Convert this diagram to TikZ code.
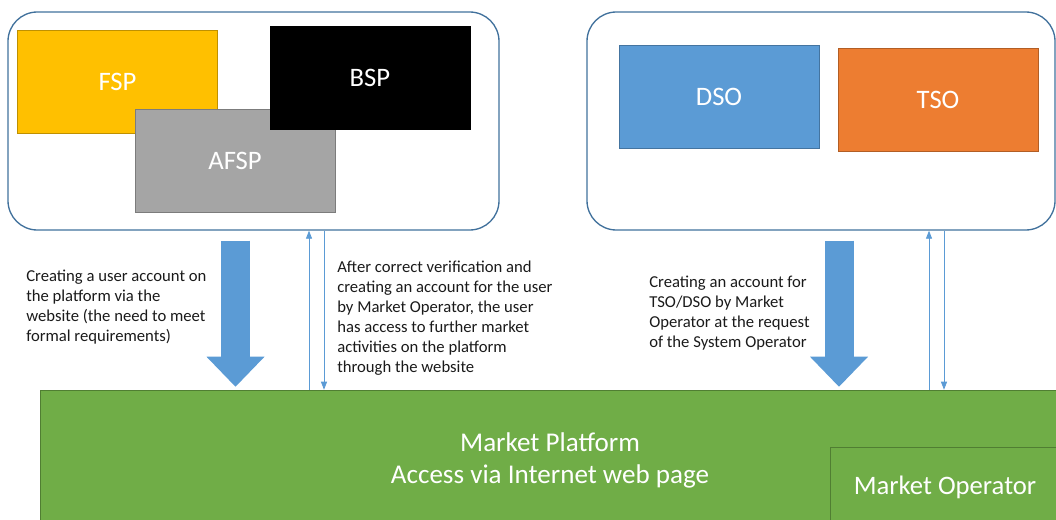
\documentclass[tikz,border=0pt]{standalone}
\usepackage{fontspec}
\setmainfont{Carlito}
\usetikzlibrary{arrows.meta}
\definecolor{fspyellow}{HTML}{FFC000}
\definecolor{afspgray}{HTML}{A5A5A5}
\definecolor{dsoblue}{HTML}{5B9BD5}
\definecolor{tsoorange}{HTML}{ED7D31}
\definecolor{platgreen}{HTML}{70AD47}
\definecolor{greenline}{HTML}{507E32}
\definecolor{grpline}{HTML}{41719C}
\definecolor{notetext}{HTML}{1A1A1A}
\tikzset{
  actor/.style={draw=#1!75!black, fill=#1, text=white, minimum width=150pt, minimum height=77pt, font=\fontsize{20}{24}\selectfont},
  grpbox/.style={draw=grpline, line width=1pt, rounded corners=22pt},
  note/.style={anchor=north west, align=left, text=notetext, inner sep=0pt, font=\fontsize{12.5}{15}\selectfont},
  bigarrow/.style={dsoblue, line width=21.75pt, shorten <=7.5pt, shorten >=2.25pt, -{Triangle[width=43.5pt,length=22.5pt,line width=0pt]}},
  thinarrow/.style={dsoblue, line width=0.6pt, -{Triangle[width=4.5pt,length=6pt]}},
}
\begin{document}
\begin{tikzpicture}[x=0.75pt,y=-0.75pt]
    \useasboundingbox (0,0) rectangle (1056,520);
    %groups
    \node[grpbox, minimum width=368.25pt, minimum height=163.5pt] (left) at (253.5,121) {};
    \node[grpbox, minimum width=351pt, minimum height=163.5pt] (right) at (821,121) {};
    %market participants
    \node[actor=fspyellow] (fsp) at (117.5,82) {FSP};
    \node[actor=afspgray] (afsp) at (235,160.5) {AFSP};
    \node[actor=black] (bsp) at (370,77.5) {BSP};
    %system operators
    \node[actor=dsoblue] (dso) at (719,97) {DSO};
    \node[actor=tsoorange] (tso) at (938,99.5) {TSO};
    %platform
    \node[draw=greenline, fill=platgreen, text=white, align=center, minimum width=765pt, minimum height=105pt, font=\fontsize{20.3}{24}\selectfont] (plat) at (550,460) {Market Platform\\Access via Internet web page};
    \node[draw=greenline, fill=platgreen, text=white, minimum width=172.5pt, minimum height=60pt, font=\fontsize{20}{24}\selectfont] (mo) at (945,487) {Market Operator};
    %arrows
    \draw[bigarrow] (235.5,0 |- left.south) -- (235.5,0 |- plat.north);
    \draw[thinarrow] (309,0 |- plat.north) -- (309,0 |- left.south);
    \draw[thinarrow] (324,0 |- left.south) -- (324,0 |- plat.north);
    \draw[bigarrow] (839,0 |- right.south) -- (839,0 |- plat.north);
    \draw[thinarrow] (929,0 |- plat.north) -- (929,0 |- right.south);
    \draw[thinarrow] (944,0 |- right.south) -- (944,0 |- plat.north);
    %notes
    \node[note] (n1) at (26,270) {Creating a user account on\\the platform via the\\website (the need to meet\\formal requirements)};
    \node[note] (n2) at (337,261) {After correct verification and\\creating an account for the user\\by Market Operator, the user\\has access to further market\\activities on the platform\\through the website};
    \node[note] (n3) at (649,276) {Creating an account for\\TSO/DSO by Market\\Operator at the request\\of the System Operator};
\end{tikzpicture}
\end{document}
